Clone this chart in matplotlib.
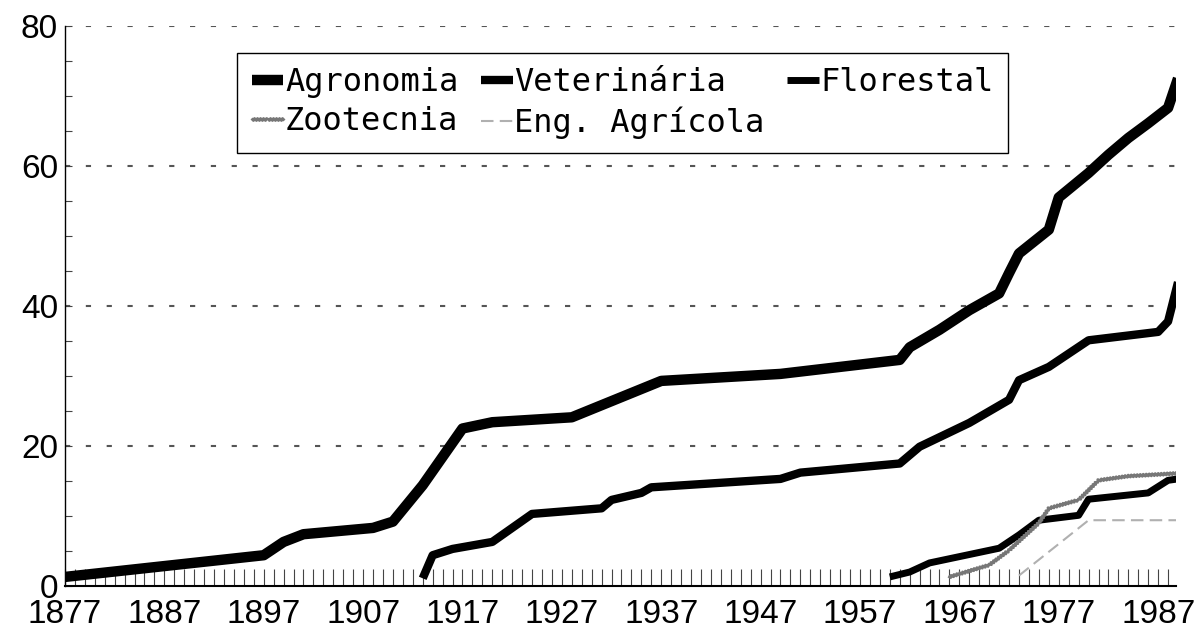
import matplotlib
matplotlib.use('Agg')
from matplotlib import pyplot as plt
from matplotlib.ticker import MultipleLocator

# Cumulative number of courses per year
agro_years = [1877, 1897, 1899, 1901, 1908, 1910, 1913, 1917, 1920, 1928, 1937,
              1949, 1961, 1962, 1965, 1968, 1971, 1972, 1973, 1976, 1977, 1980,
              1982, 1984, 1986, 1988, 1989]
agro_vals = [1.3, 4.4, 6.3, 7.4, 8.3, 9.2, 14.4, 22.5, 23.4, 24.1, 29.3,
             30.3, 32.3, 34.1, 36.6, 39.4, 41.8, 44.7, 47.5, 50.9, 55.5, 59.0,
             61.6, 64.0, 66.1, 68.3, 72.5]

vet_years = [1913, 1914, 1916, 1920, 1924, 1931, 1932, 1935, 1936, 1949, 1951,
             1961, 1963, 1968, 1972, 1973, 1976, 1980, 1987, 1988, 1989]
vet_vals = [1.1, 4.4, 5.3, 6.3, 10.3, 11.1, 12.3, 13.3, 14.1, 15.3, 16.2,
            17.5, 19.9, 23.3, 26.6, 29.4, 31.3, 35.1, 36.3, 37.8, 43.4]

flor_years = [1960, 1962, 1964, 1971, 1973, 1975, 1979, 1980, 1986, 1988, 1989]
flor_vals = [1.3, 2.0, 3.3, 5.4, 7.3, 9.4, 10.1, 12.4, 13.3, 15.1, 15.3]

zoo_years = [1966, 1970, 1972, 1975, 1976, 1979, 1981, 1984, 1989]
zoo_vals = [1.3, 3.0, 5.1, 9.0, 11.1, 12.3, 15.1, 15.7, 16.1]

eng_years = [1973, 1980, 1989]
eng_vals = [1.5, 9.4, 9.4]

x_ticks = [1877, 1887, 1897, 1907, 1917, 1927, 1937, 1947, 1957, 1967, 1977, 1987]
y_ticks = [0, 20, 40, 60, 80]

# Figure setup
fig = plt.figure(figsize=(11.96, 6.30), dpi=100)
ax = fig.add_axes([0.0543, 0.0698, 0.929, 0.889])

l_agro, = ax.plot(agro_years, agro_vals, color='black', lw=7.5,
                  solid_joinstyle='round', solid_capstyle='butt', label='Agronomia')
l_vet, = ax.plot(vet_years, vet_vals, color='black', lw=6,
                 solid_joinstyle='round', solid_capstyle='butt', label='Veterinária')
l_flor, = ax.plot(flor_years, flor_vals, color='black', lw=5,
                  solid_joinstyle='round', solid_capstyle='butt', label='Florestal')
l_zoo, = ax.plot(zoo_years, zoo_vals, color='#777777', lw=2,
                 label='Zootecnia')
l_zoo.set_sketch_params(1.2, 3, 1)
l_eng, = ax.plot(eng_years, eng_vals, color='#b0b0b0', lw=1.5,
                 linestyle=(0, (6, 3)), label='Eng. Agrícola')

# Axes limits and ticks
ax.set_xlim(1877, 1988.8)
ax.set_ylim(0, 80)
ax.set_xticks(x_ticks)
ax.xaxis.set_minor_locator(MultipleLocator(1))
ax.set_yticks(y_ticks)
ax.yaxis.set_minor_locator(MultipleLocator(5))

tick_font = {'family': 'Liberation Sans', 'size': 24}
ax.set_xticklabels([str(t) for t in x_ticks], fontdict=tick_font)
ax.set_yticklabels([str(t) for t in y_ticks], fontdict=tick_font)

ax.tick_params(axis='x', which='both', direction='in', length=12, width=0.8,
               color='#444444', pad=9)
ax.tick_params(axis='y', which='both', direction='in', length=5, width=0.8,
               color='#444444', pad=5)

for s in ['top', 'right']:
    ax.spines[s].set_visible(False)
ax.spines['left'].set_linewidth(1.0)
ax.spines['bottom'].set_linewidth(1.5)

# Dotted grid lines
for yv in y_ticks[1:]:
    ax.axhline(yv, color='#555555', lw=1.5, linestyle=(0, (2.5, 7.5)), zorder=0)

# Legend (reordered so it fills row by row)
handles = [l_agro, l_zoo, l_vet, l_eng, l_flor]
leg = ax.legend(handles=handles, labels=[h.get_label() for h in handles],
                ncol=3, loc='upper left', bbox_to_anchor=(0.155, 0.952),
                borderaxespad=0, fancybox=False, framealpha=1,
                edgecolor='black', handlelength=1.0, handletextpad=0.05,
                columnspacing=0.7, labelspacing=0.25, borderpad=0.45,
                prop={'family': 'DejaVu Sans Mono', 'size': 23})
leg.get_frame().set_linewidth(1.0)

plt.savefig('out.png', dpi=100)
